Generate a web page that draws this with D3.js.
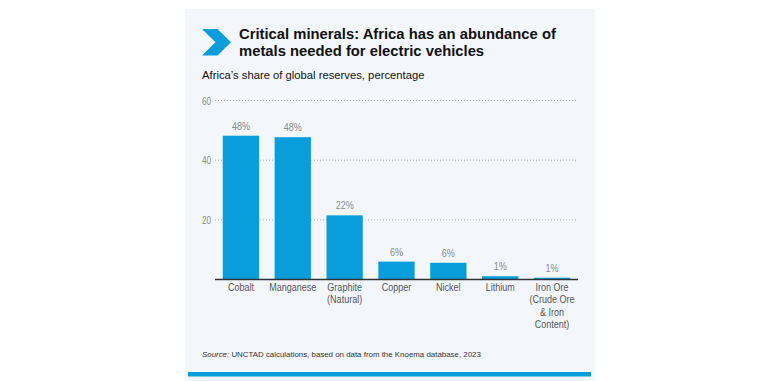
<!DOCTYPE html>
<html><head><meta charset="utf-8">
<script src="https://cdn.jsdelivr.net/npm/d3@7"></script>
<style>
html,body{margin:0;padding:0;background:#fff;}
svg{display:block;}
</style></head>
<body>
<script>
const categories = [["Cobalt"],["Manganese"],["Graphite","(Natural)"],["Copper"],["Nickel"],["Lithium"],["Iron Ore","(Crude Ore","& Iron","Content)"]];
const values = [48.2, 47.7, 21.5, 6.0, 5.6, 1.1, 0.6];
const valueLabels = ["48%","48%","22%","6%","6%","1%","1%"];
const yTicks = [20, 40, 60];

const W = 768, H = 381;
const svg = d3.select("body").append("svg").attr("width", W).attr("height", H);

// panel
svg.append("rect").attr("x",185).attr("y",9).attr("width",410).attr("height",372).attr("fill","#f3f7fc");
svg.append("rect").attr("x",188).attr("y",372).attr("width",403).attr("height",4.5).attr("fill","#0a9ddb");

// chevron
svg.append("polygon")
  .attr("points","202,29 217.5,29 231,42.3 217.5,55.5 202,55.5 215.5,42.3")
  .attr("fill","#0a9ddb");

const sans = "'Liberation Sans', Arial, Helvetica, sans-serif";
const NX = 0.82; // horizontal condensing factor for narrow labels

const title = svg.append("text").attr("font-family",sans).attr("font-weight","bold")
  .attr("font-size",14.8).attr("fill","#111");
title.append("tspan").attr("x",239).attr("y",38.5).text("Critical minerals: Africa has an abundance of");
title.append("tspan").attr("x",239).attr("y",55.5).text("metals needed for electric vehicles");

svg.append("text").attr("x",202).attr("y",78.5).attr("font-family",sans).attr("font-size",11.25)
  .attr("fill","#111").text("Africa\u2019s share of global reserves, percentage");

const x = d3.scaleBand().domain(d3.range(categories.length)).range([215,578]).paddingInner(0.3).paddingOuter(0.15);
const y = d3.scaleLinear().domain([0,60]).range([279.5,100.5]);

// gridlines
svg.append("g").selectAll("line").data(yTicks).join("line")
  .attr("x1",215).attr("x2",578).attr("y1",d=>y(d)).attr("y2",d=>y(d))
  .attr("stroke","#9a9a9a").attr("stroke-width",0.8).attr("stroke-dasharray","1,2");

// y axis tick labels
const yAxis = d3.axisLeft(y).tickValues(yTicks).tickSize(0).tickPadding(0);
const ga = svg.append("g").attr("transform","translate(211,0)").call(yAxis);
ga.select(".domain").remove();
ga.selectAll(".tick text").attr("x",0).attr("font-family",sans).attr("font-size",10).attr("fill","#8a8a8a")
  .attr("dy","0.35em").attr("transform",`scale(${NX},1)`);

// bars
svg.append("g").selectAll("rect").data(values).join("rect")
  .attr("x",(d,i)=>x(i)).attr("width",x.bandwidth())
  .attr("y",d=>y(d)).attr("height",d=>y(0)-y(d))
  .attr("fill","#0a9ddb");

// value labels
svg.append("g").selectAll("text").data(values).join("text")
  .attr("transform",(d,i)=>`translate(${x(i)+x.bandwidth()/2},${y(d)-6}) scale(${NX},1)`)
  .attr("text-anchor","middle").attr("font-family",sans).attr("font-size",11)
  .attr("fill","#8a8a8a").text((d,i)=>valueLabels[i]);

// baseline
svg.append("line").attr("x1",215).attr("x2",578).attr("y1",y(0)).attr("y2",y(0))
  .attr("stroke","#333").attr("stroke-width",1.3);

// category labels
const cl = svg.append("g").selectAll("text").data(categories).join("text")
  .attr("transform",(d,i)=>`translate(${x(i)+x.bandwidth()/2},290.7) scale(${NX},1)`)
  .attr("text-anchor","middle").attr("font-family",sans).attr("font-size",11).attr("fill","#555");
cl.each(function(lines){
  const t = d3.select(this);
  lines.forEach((l,j)=>{
    t.append("tspan").attr("x",0).attr("y",j*12.6).text(l);
  });
});

// source
const src = svg.append("text").attr("x",202).attr("y",357).attr("font-family",sans).attr("font-size",7.9).attr("fill","#333");
src.append("tspan").attr("font-style","italic").text("Source:");
src.append("tspan").text(" UNCTAD calculations, based on data from the Knoema database, 2023");
</script>
</body></html>
